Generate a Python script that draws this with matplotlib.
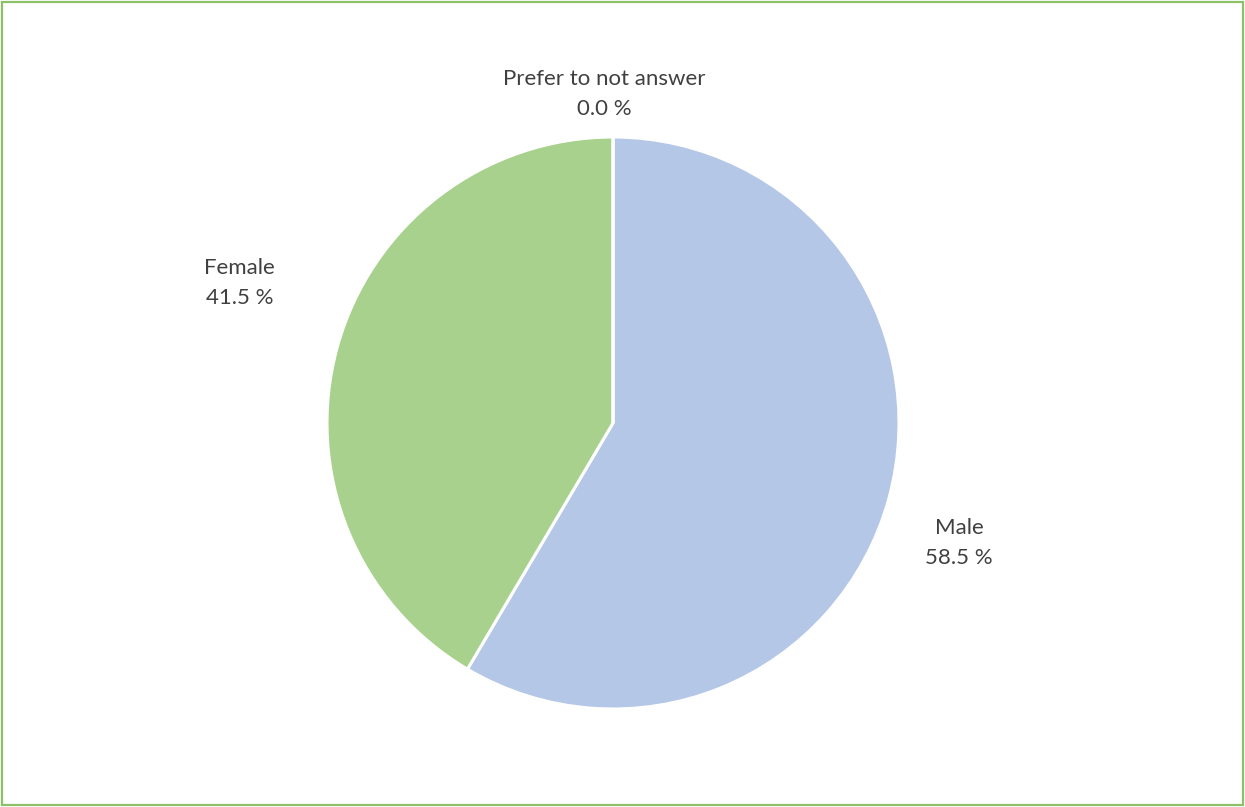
import matplotlib.pyplot as plt
from matplotlib.patches import Rectangle

categories = ["Male", "Female", "Prefer to not answer"]
shares = [58.5, 41.5, 0.0]
colors = ["#B4C7E7", "#A9D18E", "#FFFFFF"]

# label placement in pie data units (radius = 1), Excel "best fit" style
label_pos = {
    "Male": (1.21, -0.42),
    "Female": (-1.305, 0.49),
    "Prefer to not answer": (-0.03, 1.15),
}

W, H = 1245, 807
fig = plt.figure(figsize=(W / 100, H / 100), dpi=100)
cx, cy, r = 613, 423, 286
ax = fig.add_axes([(cx - r) / W, (H - cy - r) / H, 2 * r / W, 2 * r / H])

wedges, _ = ax.pie(
    shares,
    colors=colors,
    startangle=90,
    counterclock=False,
    radius=1,
    wedgeprops=dict(edgecolor="white", linewidth=2.2),
)
ax.set_xlim(-1, 1)
ax.set_ylim(-1, 1)
ax.set_aspect("auto")
ax.axis("off")

for name, val in zip(categories, shares):
    x, y = label_pos[name]
    ax.text(x, y, f"{name}\n{val:.1f} %", ha="center", va="center",
            fontsize=16, color="#404040", family=["Lato", "DejaVu Sans"],
            linespacing=1.6, clip_on=False)

fig.patches.append(Rectangle((0.0015, 0.002), 0.997, 0.996, transform=fig.transFigure,
                             fill=False, edgecolor="#8CC168", linewidth=1.6))

fig.savefig("out.png", dpi=100, facecolor="white")
